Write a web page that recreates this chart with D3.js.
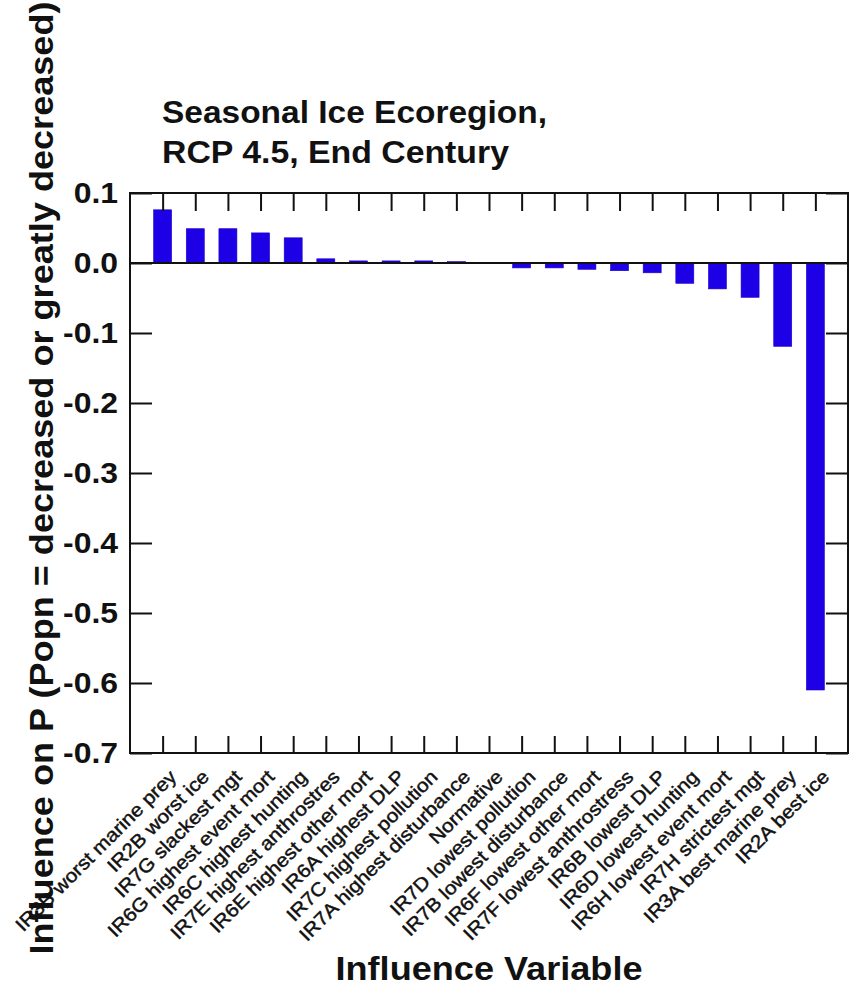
<!DOCTYPE html>
<html>
<head>
<meta charset="utf-8">
<script src="https://cdn.jsdelivr.net/npm/d3@7"></script>
<style>
  html, body { margin: 0; padding: 0; background: #fff; }
  svg { display: block; }
  text { font-family: "Liberation Sans", Arial, sans-serif; fill: #111; }
</style>
</head>
<body>
<div id="chart"></div>
<script>
const categories = [
  "IR3B worst marine prey", "IR2B worst ice", "IR7G slackest mgt", "IR6G highest event mort",
  "IR6C highest hunting", "IR7E highest anthrostres", "IR6E highest other mort", "IR6A highest DLP",
  "IR7C highest pollution", "IR7A highest disturbance", "Normative", "IR7D lowest pollution",
  "IR7B lowest disturbance", "IR6F lowest other mort", "IR7F lowest anthrostress", "IR6B lowest DLP",
  "IR6D lowest hunting", "IR6H lowest event mort", "IR7H strictest mgt", "IR3A best marine prey",
  "IR2A best ice"
];
const values = [
  0.076, 0.049, 0.049, 0.043, 0.036, 0.006, 0.003, 0.003, 0.003, 0.002, 0.0,
  -0.007, -0.007, -0.009, -0.011, -0.014, -0.029, -0.037, -0.049, -0.119, -0.61
];
const yTicks = [0.1, 0.0, -0.1, -0.2, -0.3, -0.4, -0.5, -0.6, -0.7];
const titleLines = ["Seasonal Ice Ecoregion,", "RCP 4.5, End Century"];
const xTitle = "Influence Variable";
const yTitle = "Influence on P (Popn = decreased or greatly decreased)";

const W = 857, H = 989;
const L = 130, R = 848, T = 193, B = 753;

const svg = d3.select("#chart").append("svg").attr("width", W).attr("height", H);

const x = d3.scalePoint().domain(categories).range([L, R]).padding(1);
const y = d3.scaleLinear().domain([-0.7, 0.1]).range([B, T]);
const fmt = d => d3.format(".1f")(d).replace("\u2212", "-");

// bars
const barW = 18;
svg.append("g").selectAll("rect").data(categories).join("rect")
  .attr("x", d => x(d) - barW / 2)
  .attr("y", (d, i) => y(Math.max(0, values[i])))
  .attr("width", barW)
  .attr("height", (d, i) => Math.abs(y(values[i]) - y(0)))
  .attr("fill", "#1e00e6")
  .attr("stroke", "#1a00c8")
  .attr("stroke-width", 0.6);

// zero line
svg.append("line")
  .attr("x1", L).attr("x2", R).attr("y1", y(0)).attr("y2", y(0))
  .attr("stroke", "#111").attr("stroke-width", 2);

const styleAxis = g => {
  g.select(".domain").remove();
  g.selectAll(".tick line").attr("stroke", "#111").attr("stroke-width", 2);
};

// left axis with labels
const yAxisG = svg.append("g").attr("transform", `translate(${L},0)`)
  .call(d3.axisLeft(y).tickValues(yTicks).tickFormat(fmt).tickSizeInner(-22).tickSizeOuter(0).tickPadding(12))
  .call(styleAxis);
yAxisG.selectAll(".tick text")
  .attr("font-size", 29).attr("font-weight", "bold")
  .attr("font-family", "Liberation Sans, Arial, sans-serif").attr("fill", "#111")
  .attr("transform", "translate(-12,0) scale(1.1,1) translate(12,0)");

svg.append("g").attr("transform", `translate(${R},0)`)
  .call(d3.axisRight(y).tickValues(yTicks).tickFormat("").tickSizeInner(-22).tickSizeOuter(0))
  .call(styleAxis);

svg.append("g").attr("transform", `translate(0,${T})`)
  .call(d3.axisTop(x).tickFormat("").tickSizeInner(-18).tickSizeOuter(0))
  .call(styleAxis);

svg.append("g").attr("transform", `translate(0,${B})`)
  .call(d3.axisBottom(x).tickFormat("").tickSizeInner(-17).tickSizeOuter(0))
  .call(styleAxis);

// frame
svg.append("rect")
  .attr("x", L).attr("y", T).attr("width", R - L).attr("height", B - T)
  .attr("fill", "none").attr("stroke", "#111").attr("stroke-width", 2);

// x category labels
svg.append("g").selectAll("text").data(categories).join("text")
  .attr("transform", d => `translate(${x(d) + 15},778) rotate(-45) scale(1.1,1)`)
  .attr("text-anchor", "end")
  .attr("font-size", 19)
  .attr("stroke", "#111").attr("stroke-width", 0.45)
  .text(d => d);

// title
const titleLen = [385, 347];
svg.append("g").selectAll("text").data(titleLines).join("text")
  .attr("x", 162)
  .attr("y", (d, i) => 123 + i * 40)
  .attr("font-size", 31)
  .attr("font-weight", "bold")
  .attr("textLength", (d, i) => titleLen[i])
  .attr("lengthAdjust", "spacingAndGlyphs")
  .text(d => d);

// x title
svg.append("text")
  .attr("x", (L + R) / 2).attr("y", 980)
  .attr("text-anchor", "middle")
  .attr("font-size", 33).attr("font-weight", "bold")
  .attr("textLength", 307).attr("lengthAdjust", "spacingAndGlyphs")
  .text(xTitle);

// y title
svg.append("text")
  .attr("transform", `translate(53,478) rotate(-90)`)
  .attr("text-anchor", "middle")
  .attr("font-size", 33).attr("font-weight", "bold")
  .attr("textLength", 953).attr("lengthAdjust", "spacingAndGlyphs")
  .text(yTitle);
</script>
</body>
</html>
